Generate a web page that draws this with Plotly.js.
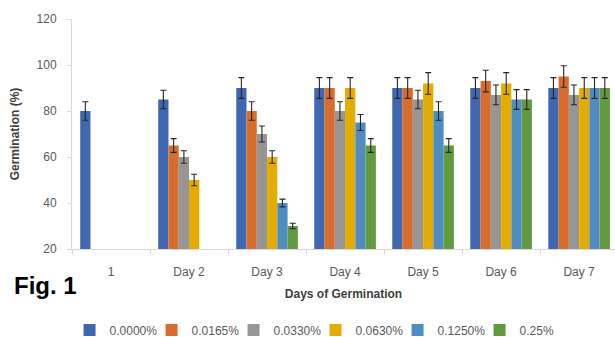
<!DOCTYPE html>
<html>
<head>
<meta charset="utf-8">
<script src="https://cdn.plot.ly/plotly-3.0.1.min.js"></script>
<style>
html,body{margin:0;padding:0;overflow:hidden;background:#fff;}
#chart{width:615px;height:337px;}
</style>
</head>
<body>
<div id="chart"></div>
<script>
const days = ["1", "Day 2", "Day 3", "Day 4", "Day 5", "Day 6", "Day 7"];
const seriesNames = ["0.0000%", "0.0165%", "0.0330%", "0.0630%", "0.1250%", "0.25%"];
const c0000 = [80, 85, 90, 90, 90, 90, 90];
const c0165 = [null, 65, 80, 90, 90, 93, 95];
const c0330 = [null, 60, 70, 80, 85, 87, 87];
const c0630 = [null, 50, 60, 90, 92, 92, 90];
const c1250 = [null, null, 40, 75, 80, 85, 90];
const c2500 = [null, null, 30, 65, 65, 85, 90];
const e0000 = [4, 4, 4.5, 4.5, 4.5, 4.5, 4.5];
const e0165 = [0, 3, 4, 4.5, 4.5, 4.7, 4.7];
const e0330 = [0, 2.7, 3.5, 4, 4, 4.3, 4.3];
const e0630 = [0, 2.5, 2.7, 4.5, 4.7, 4.7, 4.5];
const e1250 = [0, 0, 1.7, 3.5, 4, 4.3, 4.5];
const e2500 = [0, 0, 1.2, 3, 3, 4.3, 4.5];
const colors = ["#4068b2", "#d86c2c", "#969696", "#e5ac00", "#4f8cc3", "#63993f"];

const values = [c0000, c0165, c0330, c0630, c1250, c2500];
const errs = [e0000, e0165, e0330, e0630, e1250, e2500];

const traces = seriesNames.map((n, i) => ({
  type: "bar",
  name: n,
  x: days,
  y: values[i],
  marker: {color: colors[i]},
  error_y: {type: "data", array: errs[i], visible: true, color: "#262626", thickness: 1.1, width: 3},
  hoverinfo: "x+y+name"
}));

const fontFam = "Liberation Sans, Arial, sans-serif";
const layout = {
  width: 615, height: 337,
  margin: {l: 72, r: 0, t: 19, b: 88, autoexpand: false},
  paper_bgcolor: "#fff", plot_bgcolor: "#fff",
  barmode: "group", bargap: 0.21, bargroupgap: 0,
  font: {family: fontFam, size: 12, color: "#595959"},
  showlegend: true,
  legend: {orientation: "h", x: -0.0045, xanchor: "left", y: -0.352, yanchor: "middle",
           font: {size: 12, color: "#595959"}, itemwidth: 30, entrywidth: 37, traceorder: "normal"},
  xaxis: {
    type: "category", range: [-0.5, 6.46],
    showline: true, linecolor: "#d9d9d9", linewidth: 1,
    ticks: "outside", tickson: "boundaries", ticklen: 5, tickcolor: "#d9d9d9",
    showgrid: false, zeroline: false, ticklabelstandoff: 12,
    tickfont: {size: 12, color: "#595959"},
    title: {text: "<b>Days of Germination</b>", font: {size: 12, color: "#404040"}, standoff: 11}
  },
  yaxis: {
    range: [20, 120], dtick: 20, tick0: 20,
    showline: true, linecolor: "#d9d9d9", linewidth: 1,
    ticks: "outside", ticklen: 4, tickcolor: "#d9d9d9",
    showgrid: false, zeroline: false, ticklabelstandoff: 8,
    tickfont: {size: 12, color: "#595959"},
    title: {text: "<b>Germination (%)</b>", font: {size: 12, color: "#404040"}, standoff: 14}
  },
  annotations: [{
    text: "<b>Fig. 1</b>", xref: "paper", yref: "paper",
    x: -0.111, y: -0.157, xanchor: "left", yanchor: "middle", showarrow: false,
    font: {family: fontFam, size: 24, color: "#000"}
  }]
};

Plotly.newPlot("chart", traces, layout, {displayModeBar: false, staticPlot: true});
</script>
</body>
</html>
